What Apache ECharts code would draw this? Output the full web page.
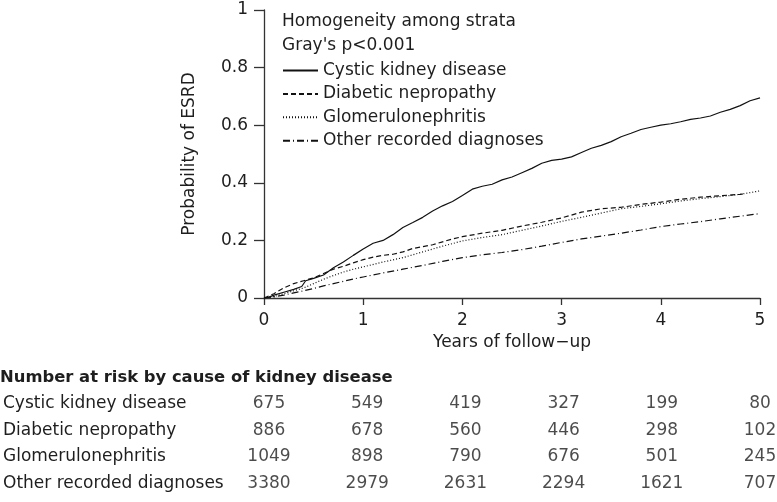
<!DOCTYPE html>
<html>
<head>
<meta charset="utf-8">
<script src="https://cdn.jsdelivr.net/npm/echarts@6/dist/echarts.min.js"></script>
<style>html,body{margin:0;padding:0;background:#fff;}#c{width:777px;height:502px;}</style>
</head>
<body>
<div id="c"></div>
<script>
// ---- data ----
var seriesNames = ['Cystic kidney disease', 'Diabetic nepropathy', 'Glomerulonephritis', 'Other recorded diagnoses'];
var cystic = [[0,0],[0.05,0.003],[0.1,0.01],[0.2,0.02],[0.3,0.03],[0.38,0.04],[0.42,0.06],[0.5,0.068],[0.6,0.08],[0.7,0.105],[0.8,0.125],[0.9,0.148],[1.0,0.17],[1.1,0.19],[1.2,0.2],[1.3,0.22],[1.4,0.245],[1.5,0.262],[1.6,0.28],[1.7,0.302],[1.8,0.32],[1.9,0.335],[2.0,0.356],[2.1,0.378],[2.2,0.388],[2.3,0.395],[2.4,0.41],[2.5,0.42],[2.6,0.435],[2.7,0.45],[2.8,0.468],[2.9,0.478],[3.0,0.482],[3.1,0.49],[3.2,0.505],[3.3,0.52],[3.4,0.53],[3.5,0.543],[3.6,0.56],[3.7,0.572],[3.8,0.585],[3.9,0.593],[4.0,0.6],[4.1,0.605],[4.2,0.612],[4.3,0.62],[4.4,0.625],[4.5,0.632],[4.6,0.645],[4.7,0.655],[4.8,0.668],[4.9,0.685],[5.0,0.695]];
var diabetic = [[0,0],[0.1,0.015],[0.2,0.035],[0.3,0.05],[0.4,0.06],[0.5,0.07],[0.6,0.085],[0.7,0.1],[0.8,0.11],[0.9,0.122],[1.0,0.133],[1.1,0.142],[1.2,0.148],[1.3,0.152],[1.4,0.16],[1.5,0.172],[1.6,0.178],[1.7,0.185],[1.8,0.195],[1.9,0.205],[2.0,0.213],[2.2,0.225],[2.4,0.235],[2.6,0.25],[2.8,0.263],[3.0,0.278],[3.2,0.298],[3.4,0.31],[3.6,0.315],[3.8,0.325],[4.0,0.333],[4.2,0.343],[4.4,0.35],[4.6,0.355],[4.8,0.36],[4.85,0.362]];
var glomerulo = [[0,0],[0.1,0.005],[0.2,0.015],[0.3,0.025],[0.4,0.035],[0.5,0.05],[0.6,0.065],[0.7,0.078],[0.8,0.09],[0.9,0.1],[1.0,0.108],[1.2,0.125],[1.4,0.14],[1.6,0.16],[1.8,0.18],[2.0,0.198],[2.2,0.21],[2.4,0.22],[2.6,0.235],[2.8,0.25],[3.0,0.266],[3.2,0.28],[3.4,0.295],[3.6,0.31],[3.8,0.318],[4.0,0.327],[4.2,0.337],[4.4,0.345],[4.6,0.352],[4.8,0.36],[5.0,0.372]];
var other = [[0,0],[0.1,0.004],[0.2,0.01],[0.3,0.018],[0.4,0.025],[0.5,0.033],[0.6,0.042],[0.7,0.05],[0.8,0.058],[0.9,0.066],[1.0,0.073],[1.2,0.087],[1.4,0.1],[1.6,0.113],[1.8,0.127],[2.0,0.14],[2.2,0.15],[2.4,0.158],[2.6,0.168],[2.8,0.18],[3.0,0.193],[3.2,0.205],[3.4,0.215],[3.6,0.225],[3.8,0.236],[4.0,0.248],[4.2,0.257],[4.4,0.265],[4.6,0.275],[4.8,0.284],[5.0,0.293]];
var riskYears = [0, 1, 2, 3, 4, 5];
var riskCystic = [675, 549, 419, 327, 199, 80];
var riskDiabetic = [886, 678, 560, 446, 298, 102];
var riskGlomerulo = [1049, 898, 790, 676, 501, 245];
var riskOther = [3380, 2979, 2631, 2294, 1621, 707];
var riskTitle = 'Number at risk by cause of kidney disease';
var noteText = "Homogeneity among strata\nGray's p<0.001";

// ---- chart ----
var FONT = 'DejaVu Sans';
var TXT = '#1e1e1e';
var curves = [cystic, diabetic, glomerulo, other];
var dashes = ['solid', [5, 3], [1, 2], [7, 3, 1, 3]];
var riskRows = [riskCystic, riskDiabetic, riskGlomerulo, riskOther];

var series = curves.map(function (d, i) {
  return {
    type: 'line', name: seriesNames[i], data: d, xAxisIndex: 0, yAxisIndex: 0,
    symbol: 'none', showSymbol: false, silent: true, animation: false,
    lineStyle: { color: '#111', width: 1.2, type: dashes[i] },
    itemStyle: { color: '#111' }
  };
});
riskRows.forEach(function (row, r) {
  series.push({
    type: 'scatter', xAxisIndex: 1, yAxisIndex: 1, symbolSize: 0, silent: true, animation: false,
    data: row.map(function (v, j) { return [riskYears[j], r, v]; }),
    label: { show: true, position: 'inside', formatter: function (p) { return String(p.value[2]); },
             fontFamily: FONT, fontSize: 17, color: TXT }
  });
});

var chart = echarts.init(document.getElementById('c'), null, { renderer: 'canvas' });
chart.setOption({
  animation: false,
  backgroundColor: '#fff',
  title: [
    { text: noteText, left: 282, top: 10, padding: 0, textStyle: { fontFamily: FONT, fontSize: 17, fontWeight: 'normal', color: TXT, lineHeight: 24 } },
    { text: riskTitle, left: 0, top: 370, padding: 0, textStyle: { fontFamily: FONT, fontSize: 16.4, fontWeight: 'bold', color: TXT } }
  ],
  legend: {
    data: seriesNames, orient: 'vertical', left: 282, top: 62, padding: 0, itemWidth: 35, itemHeight: 10, itemGap: 6.4,
    itemStyle: { opacity: 0 },
    textStyle: { fontFamily: FONT, fontSize: 17, color: TXT }, selectedMode: false
  },
  grid: [
    { left: 264, right: 17, top: 10, bottom: 204 },
    { left: 264, right: 17, top: 390, height: 107 }
  ],
  xAxis: [
    { type: 'value', gridIndex: 0, min: 0, max: 5, interval: 1,
      name: 'Years of follow\u2212up', nameLocation: 'middle', nameGap: 36,
      nameTextStyle: { fontFamily: FONT, fontSize: 17, color: TXT },
      axisLine: { show: true, lineStyle: { color: '#333', width: 1.3 } },
      axisTick: { show: true, length: 7, lineStyle: { color: '#333', width: 1.3 } },
      axisLabel: { fontFamily: FONT, fontSize: 17, color: TXT, margin: 14 },
      splitLine: { show: false } },
    { type: 'value', gridIndex: 1, min: 0, max: 5, show: false }
  ],
  yAxis: [
    { type: 'value', gridIndex: 0, min: 0, max: 1, interval: 0.2,
      name: 'Probability of ESRD', nameLocation: 'middle', nameGap: 66, nameRotate: 90,
      nameTextStyle: { fontFamily: FONT, fontSize: 17, color: TXT },
      axisLine: { show: true, lineStyle: { color: '#333', width: 1.3 } },
      axisTick: { show: true, length: 10, lineStyle: { color: '#333', width: 1.3 } },
      axisLabel: { fontFamily: FONT, fontSize: 17, color: TXT, margin: 16 },
      splitLine: { show: false } },
    { type: 'category', gridIndex: 1, data: seriesNames, inverse: true,
      axisLine: { show: false }, axisTick: { show: false },
      axisLabel: { align: 'left', margin: 266, fontFamily: FONT, fontSize: 17, color: TXT } }
  ],
  series: series
});
</script>
</body>
</html>
